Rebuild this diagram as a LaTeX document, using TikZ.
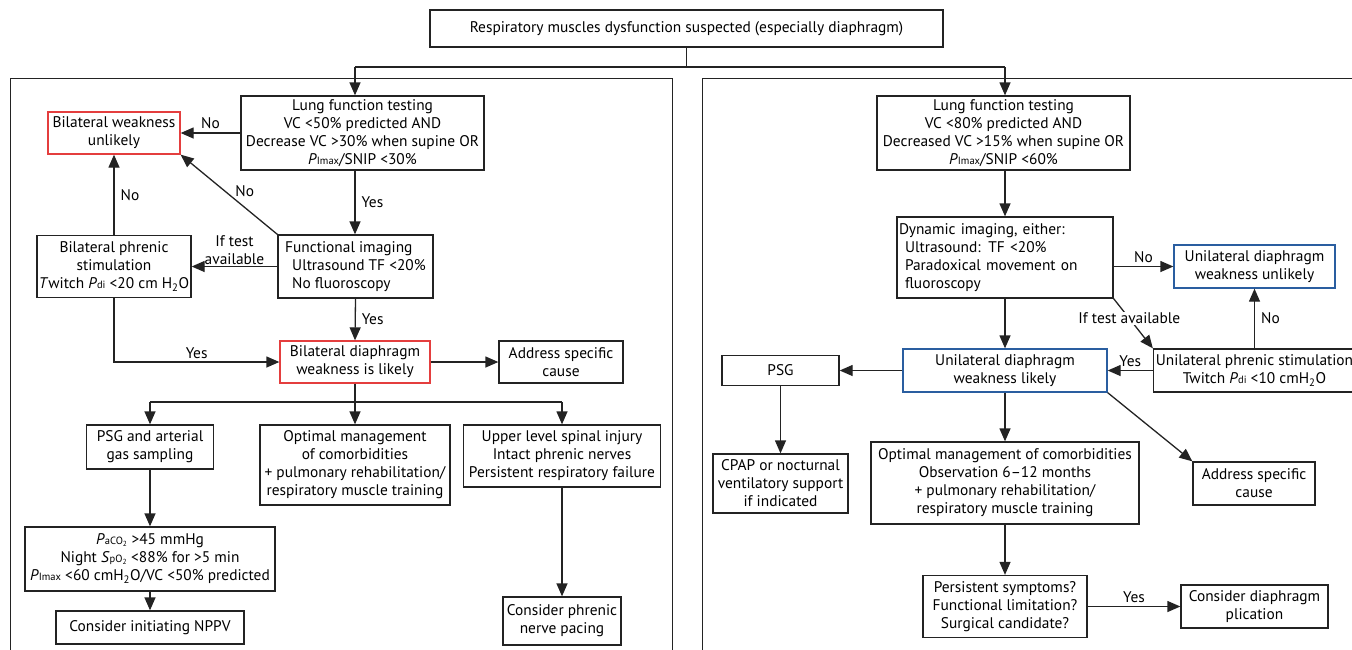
\documentclass[tikz,border=0pt]{standalone}
\usepackage{fontspec}
\setmainfont{PT Sans}
\usetikzlibrary{arrows.meta}
\definecolor{fc_red}{RGB}{228, 62, 62}
\definecolor{fc_blue}{RGB}{42, 94, 160}
\definecolor{fc_line}{RGB}{35, 35, 35}
\tikzstyle{bx}=[rectangle,draw=fc_line,line width=1.3pt,inner sep=0pt,
  align=center,font=\fontsize{15.4}{18}\selectfont]
\tikzstyle{rbx}=[bx,draw=fc_red]
\tikzstyle{bbx}=[bx,draw=fc_blue]
\tikzstyle{ln}=[draw=fc_line,line width=1.3pt]
\tikzstyle{arr}=[ln,-{Triangle[length=13pt,width=11pt]}]
\tikzstyle{lbl}=[font=\fontsize{15.4}{18}\selectfont,inner sep=1pt,align=center]
\tikzstyle{panel}=[draw=fc_line,line width=1pt]
\newcommand{\subp}[2]{\textit{#1}{\fontsize{10.5}{10.5}\selectfont #2}}

\begin{document}
\begin{tikzpicture}[x=1pt,y=-1pt]
    \useasboundingbox (0,0) rectangle (1352,649);
    \clip (0,0) rectangle (1352,649);
    \draw [style=panel] (10,78) rectangle (672,670);
    \draw [style=panel] (702,78) rectangle (1370,670);

    \node [style=bx, minimum width=513pt, minimum height=37pt] (top) at (686.5,28.5) {Respiratory muscles dysfunction suspected (especially diaphragm)};
    \coordinate (tj) at (686.5,67);
    \coordinate (tl) at (355,67);
    \coordinate (tr) at (1005,67);

    \node [style=bx, minimum width=243pt, minimum height=74pt] (lungl) at (362.5,133) {Lung function testing\\ VC <50\% predicted AND\\ Decrease VC >30\% when supine OR\\ \subp{P}{Imax}/SNIP <30\%};
    \node [style=rbx, minimum width=132pt, minimum height=42pt] (unl) at (114,133) {Bilateral weakness\\ unlikely};
    \node [style=bx, minimum width=155pt, minimum height=63pt, align=left] (fi) at (355.5,266.5) {Functional imaging\\ \hspace*{7pt}Ultrasound TF <20\%\\ \hspace*{7pt}No fluoroscopy};
    \node [style=bx, minimum width=154pt, minimum height=62pt] (phs) at (114,266.5) {Bilateral phrenic\\ stimulation\\ \textit{T}witch \subp{P}{di} <20 cm H\textsubscript{2}O};
    \node [style=rbx, minimum width=150pt, minimum height=42pt] (dl) at (355,362) {Bilateral diaphragm\\ weakness is likely};
    \node [style=bx, minimum width=124pt, minimum height=42pt] (adl) at (561,362) {Address specific\\ cause};
    \coordinate (br) at (355,402);
    \coordinate (brl) at (150,402);
    \coordinate (brr) at (562,402);
    \node [style=bx, minimum width=127pt, minimum height=44pt] (psgl) at (150,447) {PSG and arterial\\ gas sampling};
    \node [style=bx, minimum width=190pt, minimum height=80pt] (optl) at (355,465) {Optimal management\\ of comorbidities\\ + pulmonary rehabilitation/\\ respiratory muscle training};
    \node [style=bx, minimum width=197pt, minimum height=62pt] (upl) at (562,456) {Upper level spinal injury\\ Intact phrenic nerves\\ Persistent respiratory failure};
    \node [style=bx, minimum width=250pt, minimum height=64pt] (pco) at (150,559) {\subp{P}{aCO\textsubscript{2}} >45 mmHg\\ Night \subp{S}{pO\textsubscript{2}} <88\% for >5 min\\ \subp{P}{Imax} <60 cmH\textsubscript{2}O/VC <50\% predicted};
    \node [style=bx, minimum width=188pt, minimum height=33pt] (nppv) at (150,627.5) {Consider initiating NPPV};
    \node [style=bx, minimum width=118pt, minimum height=48pt] (pace) at (562,621) {Consider phrenic\\ nerve pacing};

    \node [style=bx, minimum width=253pt, minimum height=74pt] (lungr) at (1003.5,133) {Lung function testing\\ VC <80\% predicted AND\\ Decreased VC >15\% when supine OR\\ \subp{P}{Imax}/SNIP <60\%};
    \node [style=bx, minimum width=216pt, minimum height=81pt, text width=212pt, align=left] (dyn) at (1005,257.5) {Dynamic imaging, either:\\ \hspace*{6pt}Ultrasound: TF <20\%\\ \hspace*{6pt}Paradoxical movement on\\ \hspace*{6pt}fluoroscopy};
    \node [style=bbx, minimum width=161pt, minimum height=43pt] (unu) at (1254.5,266.5) {Unilateral diaphragm\\ weakness unlikely};
    \node [style=bbx, minimum width=204pt, minimum height=43pt] (unk) at (1005,370.5) {Unilateral diaphragm\\ weakness likely};
    \node [style=bx, minimum width=202pt, minimum height=43pt] (phsr) at (1254.5,370.5) {Unilateral phrenic stimulation\\ Twitch \subp{P}{di} <10 cmH\textsubscript{2}O};
    \node [style=bx, minimum width=117pt, minimum height=30pt] (psgr) at (780.5,370.5) {PSG};
    \node [style=bx, minimum width=135pt, minimum height=59pt] (cpap) at (780.5,483.5) {CPAP or nocturnal\\ ventilatory support\\ if indicated};
    \node [style=bx, minimum width=268pt, minimum height=82pt] (optr) at (1005,483) {Optimal management of comorbidities\\ Observation 6–12 months\\ + pulmonary rehabilitation/\\ respiratory muscle training};
    \node [style=bx, minimum width=122pt, minimum height=43pt] (adr) at (1254,483.5) {Address specific\\ cause};
    \node [style=bx, minimum width=164pt, minimum height=62pt] (pers) at (1005,606.5) {Persistent symptoms?\\ Functional limitation?\\ Surgical candidate?};
    \node [style=bx, minimum width=147pt, minimum height=43pt] (plic) at (1254.5,606.5) {Consider diaphragm\\ plication};

    \draw [style=ln] (top.south) to (tj);
    \draw [style=ln] (tl) to (tr);
    \draw [style=arr] (tl) to (tl |- lungl.north);
    \draw [style=arr] (tr) to (tr |- lungr.north);

    \draw [style=arr] (lungl.west) to node [style=lbl, above=3pt] {No} (unl.east);
    \draw [style=arr] (tl |- lungl.south) to node [style=lbl, right=5pt] {Yes} (tl |- fi.north);
    \draw [style=arr] (fi.north west) to node [style=lbl, pos=0.45, above right] {No} (unl.south east);
    \draw [style=arr] (fi.west) to node [style=lbl, above] {If test\\ available} (phs.east);
    \draw [style=arr] (phs.north) to node [style=lbl, right=5pt] {No} (unl.south);
    \draw [style=arr] (phs.south) |- node [style=lbl, pos=0.75, above=2pt] {Yes} (dl.west);
    \draw [style=arr] (fi.south) to node [style=lbl, right=5pt] {Yes} (dl.north);
    \draw [style=arr] (dl.east) to (adl.west);
    \draw [style=ln] (dl.south) to (br);
    \draw [style=ln] (brl) to (brr);
    \draw [style=arr] (brl) to (psgl.north);
    \draw [style=arr] (br) to (optl.north);
    \draw [style=arr] (brr) to (upl.north);
    \draw [style=arr] (psgl.south) to (pco.north);
    \draw [style=arr] (pco.south) to (nppv.north);
    \draw [style=arr] (upl.south) to (pace.north);

    \draw [style=arr] (tr |- lungr.south) to (dyn.north);
    \draw [style=arr] (unu.west -| dyn.east) to node [style=lbl, above=2pt] {No} (unu.west);
    \draw [style=arr] (dyn.south) to (unk.north);
    \draw [style=arr] (dyn.south east) to node [style=lbl, pos=0.4, fill=white] {If test available} (phsr.north west);
    \draw [style=arr] (phsr.north) to node [style=lbl, right=5pt] {No} (phsr.north |- unu.south);
    \draw [style=arr] (phsr.west) to node [style=lbl, above=2pt] {Yes} (unk.east);
    \draw [style=arr] (unk.west) to (psgr.east);
    \draw [style=arr] (psgr.south) to (cpap.north);
    \draw [style=arr] (unk.south) to (optr.north);
    \draw [style=arr] (unk.south east) to (adr.north west);
    \draw [style=arr] (optr.south) to (pers.north);
    \draw [style=arr] (pers.east) to node [style=lbl, above=2pt] {Yes} (plic.west);
  \end{tikzpicture}
\end{document}
